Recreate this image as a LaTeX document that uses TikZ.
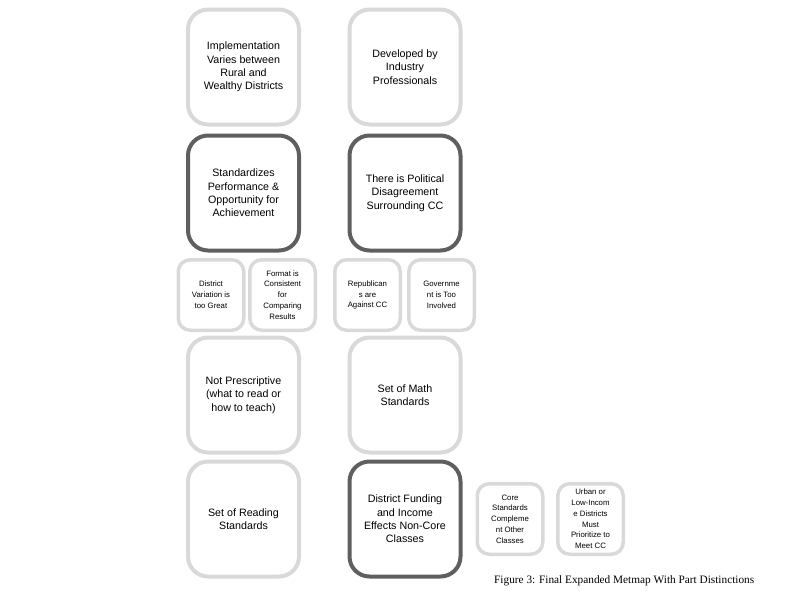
\documentclass[tikz,border=0pt]{standalone}
\usepackage{fontspec}
\setmainfont{Liberation Sans}
\newfontfamily\capfont{Liberation Serif}
\definecolor{lightbox}{HTML}{D9D9D9}
\definecolor{darkbox}{HTML}{5F5F5F}
\begin{document}
\begin{tikzpicture}[x=1pt,y=-1pt,
  bigbox/.style={draw=lightbox, line width=4pt, rounded corners=20pt, minimum width=111pt, minimum height=115pt, inner sep=0pt, align=center, font=\fontsize{10.7}{13.3}\selectfont, text=black},
  darkbig/.style={bigbox, draw=darkbox},
  smallbox/.style={draw=lightbox, line width=3.5pt, rounded corners=12pt, minimum width=65.5pt, minimum height=70.5pt, inner sep=0pt, align=center, font=\fontsize{7.8}{10.8}\selectfont, text=black},
  captext/.style={anchor=base west, inner sep=0pt, font=\capfont\fontsize{11.3}{13}\selectfont}]
\useasboundingbox (0,0) rectangle (800,600);
\node[bigbox] (impl) at (243.5,67) {Implementation\\Varies between\\Rural and\\Wealthy Districts};
\node[bigbox] (dev) at (405,67) {Developed by\\Industry\\Professionals};
\node[darkbig] (stand) at (243.5,193) {Standardizes\\Performance \&\\Opportunity for\\Achievement};
\node[darkbig] (pol) at (405,193) {There is Political\\Disagreement\\Surrounding CC};
\node[smallbox] (var) at (211,295) {District\\Variation is\\too Great};
\node[smallbox] (fmt) at (282.5,295) {Format is\\Consistent\\for\\Comparing\\Results};
\node[smallbox] (rep) at (367.5,295) {Republican\\s are\\Against CC};
\node[smallbox] (gov) at (441.5,295) {Governme\\nt is Too\\Involved};
\node[bigbox] (presc) at (243.5,395) {Not Prescriptive\\(what to read or\\how to teach)};
\node[bigbox] (math) at (405,395) {Set of Math\\Standards};
\node[bigbox] (read) at (243.5,519) {Set of Reading\\Standards};
\node[darkbig] (fund) at (405,519) {District Funding\\and Income\\Effects Non-Core\\Classes};
\node[smallbox] (core) at (510,519) {Core\\Standards\\Compleme\\nt Other\\Classes};
\node[smallbox] (urban) at (590.5,519) {Urban or\\Low-Incom\\e Districts\\Must\\Prioritize to\\Meet CC};
\node[captext] (cap) at (494,583) {Figure 3: Final Expanded Metmap With Part Distinctions};
\end{tikzpicture}
\end{document}
